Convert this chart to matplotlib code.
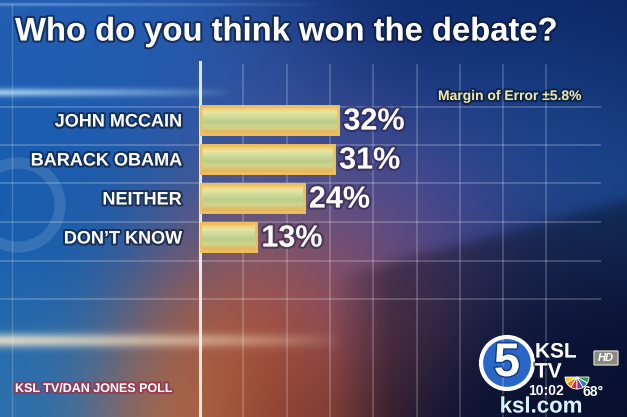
import numpy as np
import matplotlib
matplotlib.use("Agg")
import matplotlib.pyplot as plt
import matplotlib.patheffects as pe
from matplotlib.patches import Circle, Wedge, FancyBboxPatch

# chart data
categories = ["JOHN MCCAIN", "BARACK OBAMA", "NEITHER", "DON\u2019T KNOW"]
values = [32, 31, 24, 13]
title = "Who do you think won the debate?"
margin_note = "Margin of Error \u00b15.8%"
source = "KSL TV/DAN JONES POLL"

W, H = 627, 417
plt.rcParams["font.family"] = ["Liberation Sans", "DejaVu Sans"]


def background():
    yy, xx = np.mgrid[0:H, 0:W].astype(float)
    anchors = [
        (90, 20, 130, (40, 95, 180)),
        (470, 10, 140, (12, 38, 105)),
        (620, 40, 90, (10, 30, 85)),
        (50, 190, 110, (18, 92, 172)),
        (290, 170, 90, (65, 88, 165)),
        (560, 150, 90, (38, 100, 182)),
        (430, 230, 70, (105, 90, 170)),
        (265, 300, 80, (215, 88, 35)),
        (370, 290, 60, (160, 80, 100)),
        (30, 370, 70, (45, 115, 175)),
        (180, 395, 60, (180, 105, 65)),
        (300, 405, 55, (120, 55, 45)),
        (500, 320, 100, (20, 30, 80)),
        (600, 400, 90, (12, 22, 70)),
    ]
    num = np.zeros((H, W, 3))
    den = np.zeros((H, W))
    for ax_, ay, s, c in anchors:
        w = np.exp(-((xx - ax_) ** 2 + (yy - ay) ** 2) / (2 * s ** 2))
        num += w[..., None] * np.array(c, float)
        den += w
    img = num / den[..., None] / 255.0

    # dark diagonal in the lower right
    line = 265 - (xx - 380) * 65 / 247
    m = 1 / (1 + np.exp(-(yy - line) / 4)) * (xx > 330) * np.clip((xx - 330) / 60, 0, 1)
    img = img * (1 - 0.35 * m[..., None])

    # light streaks
    def streak(yc, sy, x0, x1, strength, col):
        prof = np.exp(-(yy - yc) ** 2 / (2 * sy ** 2))
        xp = np.clip((x1 - xx) / (x1 - x0), 0, 1) ** 0.7
        a = (strength * prof * xp)[..., None]
        return img * (1 - a) + np.array(col) * a

    img = streak(92, 3, 0, 230, 0.75, (0.75, 0.9, 1.0))
    img = streak(340, 5, 0, 340, 0.8, (1.0, 0.93, 0.8))
    img = streak(4, 1.2, 0, 320, 0.4, (0.7, 0.85, 1.0))
    return np.clip(img, 0, 1)


fig = plt.figure(figsize=(W / 100, H / 100), dpi=100)
bg = fig.add_axes([0, 0, 1, 1])
bg.imshow(background(), extent=(0, W, H, 0), aspect="auto", interpolation="bilinear")
bg.set_xlim(0, W)
bg.set_ylim(H, 0)
bg.axis("off")

# grid lines and frame decoration
for k in range(1, 9):
    x = 200 + 43.3 * k
    bg.plot([x, x], [65, H], color="white", lw=1.2, alpha=0.22)
for y in [107, 145, 183, 222, 261, 299]:
    bg.plot([0, 600], [y, y], color="white", lw=1.4, alpha=0.2)
bg.plot([200, 200], [62, H], color="white", lw=2.2, alpha=0.85)
bg.plot([12, 12], [4, H], color="white", lw=1, alpha=0.18)
bg.add_patch(Circle((18, 205), 42, fill=False, ec="white", lw=8, alpha=0.12))

shadow = [pe.withStroke(linewidth=3, foreground="#081530", alpha=0.6)]
bg.text(15, 32, title, fontsize=23.6, fontweight="bold", color="white",
        va="center", ha="left", path_effects=shadow)
bg.text(438, 96, margin_note, fontsize=10, fontweight="bold", color="#ece6a6",
        va="center", ha="left", path_effects=shadow)
bg.text(15, 389, source, fontsize=9, fontweight="bold", color="white",
        va="center", ha="left",
        path_effects=[pe.withStroke(linewidth=3, foreground="#9a3550", alpha=0.8)])

# station logo
bg.add_patch(Circle((507, 363), 26, fc="#2a66c8", ec="white", lw=3))
bg.text(507, 364, "5", fontsize=34, fontweight="bold", color="white", ha="center",
        va="center", path_effects=[pe.withStroke(linewidth=2, foreground="#123a80")])
bg.text(535, 352, "KSL", fontsize=15, fontweight="bold", color="white", ha="left",
        va="center", path_effects=shadow)
bg.text(535, 372, "TV", fontsize=15, fontweight="bold", color="white", ha="left",
        va="center", path_effects=shadow)
bg.add_patch(FancyBboxPatch((595, 352), 22, 12, boxstyle="round,pad=1",
                            fc="#8a8a80", ec="#d0d0c0", lw=1))
bg.text(606, 358, "HD", fontsize=8, fontweight="bold", style="italic",
        color="white", ha="center", va="center")
for i, c in enumerate(["#f5d020", "#f08a20", "#e02a30", "#7a3a9a", "#2a7ad0", "#30a040"]):
    bg.add_patch(Wedge((577, 377), 12, 180 - (i + 1) * 30, 180 - i * 30, fc=c, ec="white", lw=0.6))
bg.text(546, 391, "10:02", fontsize=10, fontweight="bold", color="white", ha="center", va="center")
bg.text(593, 392, "68\u00b0", fontsize=10, fontweight="bold", color="white", ha="center", va="center")
bg.text(541, 407, "ksl.com", fontsize=16, fontweight="bold", color="#d8f0ff", ha="center",
        va="center", path_effects=shadow)

# bar chart axes: x=0 at pixel 200, 4.32 px per percent, rows every 39 px
ax = fig.add_axes([200 / W, 1 - 257 / H, 427 / W, 157 / H])
ax.patch.set_alpha(0)
y = np.arange(len(categories))
bars = ax.barh(y, values, height=0.74, color="#c0cc8c", edgecolor="#e8b452",
               linewidth=2, zorder=3)
prof = np.array([[0.95, 0.78, 0.42], [0.92, 0.90, 0.64], [0.80, 0.86, 0.60],
                 [0.74, 0.80, 0.53], [0.80, 0.84, 0.56], [0.90, 0.72, 0.38]])
grad = prof[:, None, :] * np.ones((1, 60, 1))
grad[:, 0, :] = [0.95, 0.75, 0.4]
for b in bars:
    im = ax.imshow(grad, extent=(b.get_x(), b.get_x() + b.get_width(),
                                 b.get_y() + b.get_height(), b.get_y()),
                   aspect="auto", interpolation="bilinear", zorder=4)
    im.set_clip_path(b)
    ax.add_patch(plt.Rectangle((b.get_x(), b.get_y()), b.get_width(), b.get_height(),
                               fill=False, ec="#efbf5a", lw=2, zorder=5))
for yi, v in zip(y, values):
    ax.text(v + 1.2, yi + 0.04, f"{v}%", fontsize=22, fontweight="bold", color="white",
            va="center", ha="left", zorder=6,
            path_effects=[pe.withStroke(linewidth=3, foreground="#2a1a40", alpha=0.5)])
ax.set_xlim(0, 427 / 4.32)
ax.set_ylim(len(categories) - 0.487, -0.513)
ax.set_yticks(y, categories)
ax.tick_params(axis="y", length=0, pad=13, labelsize=13, labelcolor="white")
for lbl in ax.get_yticklabels():
    lbl.set_fontweight("bold")
    lbl.set_path_effects(shadow)
ax.set_xticks([])
for s in ax.spines.values():
    s.set_visible(False)

fig.savefig("out.png", dpi=100)
